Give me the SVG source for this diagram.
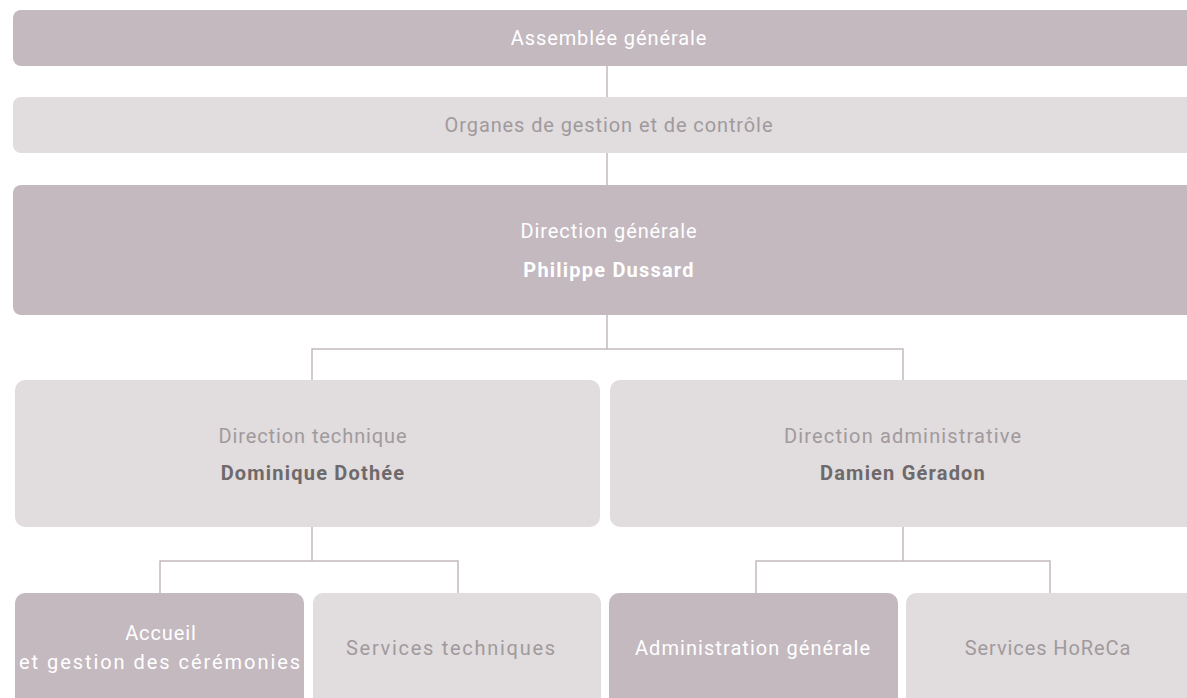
<svg xmlns="http://www.w3.org/2000/svg" width="1187" height="698" viewBox="0 0 1187 698">
<style>
.dark{fill:#c4b9bf}
.light{fill:#e1dcde}
.conn{stroke:#c4b9bf;stroke-width:1.5;fill:none}
text{font-family:Roboto,"Liberation Sans",sans-serif;font-size:20px;letter-spacing:0.9px;text-anchor:middle}
.tw{fill:#ffffff}
.tg{fill:#a09a9c}
.bw{fill:#ffffff;font-weight:bold;letter-spacing:1.2px}
.bg{fill:#6e6a6b;font-weight:bold;letter-spacing:1.2px}
</style>
<rect width="1187" height="698" fill="#ffffff"/>
<g id="connectors">
<line class="conn" x1="607" y1="66" x2="607" y2="97"/>
<line class="conn" x1="607" y1="153" x2="607" y2="185"/>
<path class="conn" d="M607 315V349M312 380V349H903V380"/>
<path class="conn" d="M312 527V561M160 593V561H458V593"/>
<path class="conn" d="M903 527V561M756 593V561H1050V593"/>
</g>
<g id="assemblee">
<rect class="dark" x="13" y="10" width="1200" height="56" rx="8"/>
<text class="tw" x="609" y="45">Assemblée générale</text>
</g>
<g id="organes">
<rect class="light" x="13" y="97" width="1200" height="56" rx="8"/>
<text class="tg" x="609" y="132">Organes de gestion et de contrôle</text>
</g>
<g id="direction-generale">
<rect class="dark" x="13" y="185" width="1200" height="130" rx="8"/>
<text class="tw" x="609" y="238">Direction générale</text>
<text class="bw" x="609" y="277">Philippe Dussard</text>
</g>
<g id="direction-technique">
<rect class="light" x="15" y="380" width="585" height="147" rx="10"/>
<text class="tg" x="313" y="443">Direction technique</text>
<text class="bg" x="313" y="480">Dominique Dothée</text>
</g>
<g id="direction-administrative">
<rect class="light" x="610" y="380" width="600" height="147" rx="10"/>
<text class="tg" x="903" y="443" textLength="238">Direction administrative</text>
<text class="bg" x="903" y="480">Damien Géradon</text>
</g>
<g id="accueil">
<rect class="dark" x="15" y="593" width="289" height="120" rx="10"/>
<text class="tw" x="161" y="640">Accueil</text>
<text class="tw" x="160" y="669" textLength="282">et gestion des cérémonies</text>
</g>
<g id="services-techniques">
<rect class="light" x="313" y="593" width="288" height="120" rx="10"/>
<text class="tg" x="451" y="655" textLength="210">Services techniques</text>
</g>
<g id="administration-generale">
<rect class="dark" x="609" y="593" width="289" height="120" rx="10"/>
<text class="tw" x="753" y="655" textLength="236">Administration générale</text>
</g>
<g id="services-horeca">
<rect class="light" x="906" y="593" width="300" height="120" rx="10"/>
<text class="tg" x="1048" y="655">Services HoReCa</text>
</g>
</svg>
